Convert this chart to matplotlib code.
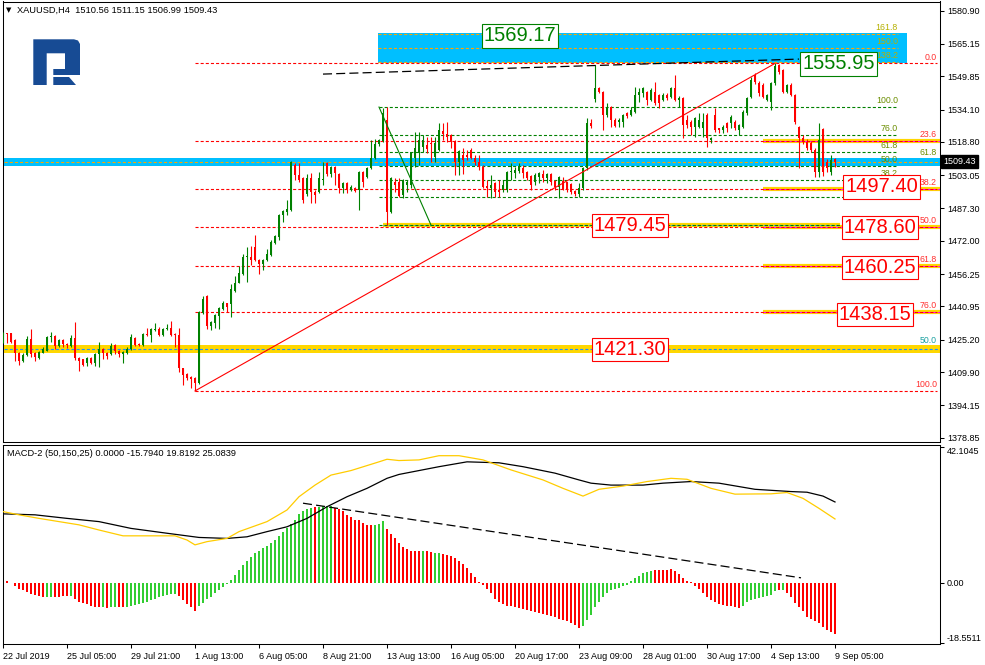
import matplotlib
matplotlib.use("Agg")
import matplotlib.pyplot as plt
import matplotlib.transforms as mtransforms
from matplotlib.patches import Polygon, Rectangle
import numpy as np

plt.rcParams['lines.scale_dashes'] = False
plt.rcParams['font.family'] = ['Liberation Sans', 'DejaVu Sans']
plt.rcParams['axes.linewidth'] = 0.75

# ------------------------------------------------------------------ data
header_text = "XAUUSD,H4  1510.56 1511.15 1506.99 1509.43"
macd_text = "MACD-2 (50,150,25) 0.0000 -15.7940 19.8192 25.0839"

opens = [
 1423.8,1428.2,1428.2,1425.1,1419.1,1415.3,1418.0,1425.4,1419.1,1416.4,
 1419.1,1420.0,1426.3,1427.0,1422.2,1425.1,1423.2,1422.2,1425.8,1416.4,
 1415.9,1414.0,1416.4,1414.3,1418.4,1420.6,1419.1,1418.4,1422.6,1419.8,
 1418.4,1419.1,1420.8,1425.8,1423.2,1422.7,1427.9,1427.4,1429.8,1430.1,
 1427.4,1430.1,1430.6,1427.9,1427.4,1411.7,1409.0,1407.4,1407.2,1404.6,
 1438.0,1446.0,1431.7,1433.3,1436.6,1439.6,1442.4,1442.1,1448.4,1452.2,
 1456.3,1464.2,1464.2,1468.9,1462.9,1461.0,1462.9,1465.3,1471.0,1473.7,
 1484.2,1485.8,1486.6,1507.9,1503.1,1501.6,1494.0,1501.6,1495.3,1495.3,
 1500.6,1508.7,1503.6,1507.1,1503.6,1497.1,1499.2,1496.0,1497.1,1496.0,
 1504.7,1502.3,1506.3,1511.0,1517.7,1519.2,1529.2,1485.8,1499.7,1499.7,
 1493.7,1498.4,1498.4,1511.0,1513.4,1516.5,1517.3,1518.1,1511.8,1515.0,
 1524.0,1522.4,1522.1,1519.2,1509.4,1512.6,1512.6,1515.0,1511.0,1509.4,
 1507.1,1498.1,1496.8,1499.2,1496.0,1496.0,1496.0,1504.7,1503.9,1505.0,
 1506.3,1504.4,1502.8,1499.7,1502.4,1503.5,1501.6,1503.5,1500.3,1497.6,
 1500.3,1499.7,1498.7,1495.6,1494.0,1496.8,1506.3,1527.6,1538.9,1544.5,
 1542.6,1531.5,1535.5,1529.2,1528.4,1528.4,1532.3,1531.5,1533.1,1541.0,
 1541.8,1542.6,1538.6,1542.6,1541.0,1538.6,1541.0,1540.2,1544.5,1538.6,
 1539.4,1529.2,1528.4,1526.0,1526.0,1525.2,1531.5,1519.7,1531.5,1525.2,
 1524.4,1527.6,1527.6,1528.4,1524.4,1526.0,1532.3,1540.2,1550.5,1546.5,
 1545.7,1538.6,1537.8,1546.5,1555.0,1552.8,1542.6,1545.7,1541.0,1526.0,
 1520.5,1518.9,1518.1,1515.0,1504.7,1524.8,1509.4,1504.7,1510.56]
highs = [
 1429.0,1428.5,1428.6,1425.5,1419.5,1419.0,1427.0,1430.1,1419.5,1420.0,
 1421.9,1426.8,1429.0,1427.5,1425.6,1425.5,1423.6,1427.4,1433.6,1416.9,
 1416.2,1416.9,1416.9,1418.9,1424.3,1421.2,1419.6,1423.8,1423.0,1420.2,
 1420.0,1421.6,1427.9,1426.3,1423.6,1428.5,1430.6,1430.6,1433.0,1431.1,
 1430.6,1432.6,1433.9,1428.2,1430.6,1412.0,1409.4,1407.8,1407.6,1438.9,
 1445.9,1446.3,1434.0,1437.3,1440.6,1443.5,1442.8,1451.6,1455.4,1460.1,
 1465.8,1469.2,1469.6,1474.8,1463.3,1463.4,1468.0,1472.4,1474.8,1484.6,
 1486.6,1491.3,1509.8,1508.7,1508.7,1502.0,1503.5,1503.9,1496.0,1504.7,
 1509.4,1509.4,1507.6,1507.5,1504.0,1499.7,1500.0,1498.4,1497.6,1505.2,
 1505.0,1507.1,1519.7,1520.2,1520.2,1534.7,1535.3,1502.0,1501.6,1501.6,
 1501.3,1500.8,1514.2,1523.6,1523.6,1522.1,1521.3,1521.3,1521.3,1527.6,
 1527.6,1528.4,1522.4,1519.7,1515.0,1515.8,1515.0,1515.8,1512.6,1512.6,
 1507.9,1500.8,1503.1,1499.7,1500.8,1500.8,1505.2,1508.7,1507.1,1508.7,
 1507.9,1504.9,1503.3,1503.9,1504.7,1505.5,1504.0,1504.0,1500.8,1502.8,
 1502.4,1500.0,1499.2,1496.0,1499.2,1507.0,1530.0,1529.5,1555.2,1545.0,
 1543.0,1537.0,1536.0,1530.3,1530.0,1532.0,1533.0,1535.5,1545.0,1544.2,
 1545.0,1543.0,1544.2,1547.3,1541.5,1542.0,1541.8,1545.0,1550.5,1540.5,
 1540.0,1531.5,1529.0,1530.5,1532.3,1532.3,1532.3,1521.3,1534.7,1525.5,
 1526.8,1528.4,1531.5,1529.0,1527.3,1534.0,1540.2,1549.7,1551.5,1547.5,
 1546.5,1541.5,1547.3,1555.95,1555.5,1553.2,1546.2,1546.5,1541.5,1526.5,
 1522.0,1520.0,1519.0,1516.0,1527.6,1525.5,1510.8,1512.6,1511.15]
lows = [
 1423.5,1423.8,1423.5,1415.1,1413.2,1414.8,1417.6,1417.2,1415.3,1416.0,
 1418.8,1419.7,1424.3,1420.6,1421.8,1421.9,1421.1,1421.9,1415.6,1410.6,
 1412.8,1412.8,1413.8,1412.8,1412.4,1415.9,1415.9,1418.0,1418.4,1416.9,
 1414.3,1418.4,1420.3,1422.2,1422.0,1422.2,1427.0,1424.3,1429.5,1427.0,
 1427.0,1429.8,1427.0,1421.9,1410.1,1403.8,1406.1,1402.2,1400.95,1404.3,
 1437.5,1430.1,1429.8,1430.6,1430.1,1439.2,1438.5,1436.1,1448.0,1451.8,
 1455.9,1452.7,1460.6,1462.5,1456.3,1458.2,1462.5,1465.0,1470.6,1472.4,
 1481.1,1484.2,1486.0,1500.8,1499.7,1490.0,1493.0,1489.7,1489.7,1494.8,
 1498.4,1502.8,1502.3,1498.4,1494.5,1494.5,1494.5,1495.5,1495.0,1486.6,
 1497.6,1501.8,1505.8,1510.5,1517.0,1518.8,1479.45,1485.0,1495.3,1492.8,
 1492.1,1495.3,1497.1,1507.1,1507.9,1514.2,1513.4,1509.4,1509.4,1514.5,
 1519.7,1518.9,1515.8,1503.1,1503.1,1503.5,1510.2,1510.5,1507.9,1505.5,
 1496.8,1492.9,1492.1,1492.9,1492.9,1495.3,1495.3,1500.8,1501.6,1503.9,
 1501.6,1500.8,1496.0,1498.4,1499.2,1499.7,1499.2,1498.4,1496.0,1492.1,
 1496.0,1495.3,1494.0,1493.4,1492.9,1496.0,1505.5,1525.5,1537.5,1541.8,
 1524.4,1530.7,1526.0,1526.0,1526.0,1526.0,1530.0,1531.0,1532.6,1537.8,
 1540.0,1536.3,1538.0,1536.3,1534.7,1538.0,1538.6,1539.7,1538.0,1535.5,
 1520.5,1525.2,1522.1,1521.3,1525.2,1521.3,1516.5,1518.1,1523.6,1522.8,
 1522.8,1523.6,1525.2,1524.4,1522.1,1525.5,1531.5,1539.5,1546.0,1540.5,
 1539.5,1538.0,1533.9,1545.8,1551.0,1542.0,1541.8,1540.5,1527.5,1506.3,
 1518.0,1515.0,1514.2,1502.3,1502.3,1502.5,1504.7,1503.1,1506.99]
closes = [
 1428.5,1427.7,1424.3,1418.8,1415.3,1418.0,1425.4,1418.4,1416.9,1419.5,
 1420.6,1426.3,1427.0,1422.2,1425.1,1423.0,1422.6,1425.8,1416.4,1415.3,
 1413.2,1416.4,1414.3,1418.4,1420.6,1418.8,1417.6,1422.2,1419.7,1418.4,
 1419.5,1420.8,1426.3,1422.7,1422.6,1427.9,1427.3,1430.1,1430.1,1427.4,
 1430.1,1430.6,1427.4,1427.3,1411.7,1408.5,1406.9,1406.4,1404.6,1438.2,
 1444.3,1431.7,1433.5,1436.9,1440.1,1442.4,1440.5,1449.0,1452.2,1456.6,
 1464.2,1464.5,1462.9,1462.9,1461.0,1462.9,1465.8,1471.3,1474.3,1484.2,
 1486.1,1486.9,1509.4,1503.1,1500.8,1491.3,1501.6,1495.3,1493.7,1501.6,
 1501.4,1503.6,1507.1,1503.9,1497.1,1499.2,1496.5,1497.6,1495.6,1504.7,
 1500.0,1506.3,1511.0,1517.7,1519.7,1532.3,1485.8,1501.6,1498.4,1493.4,
 1500.8,1499.7,1513.9,1515.8,1519.7,1519.7,1515.4,1517.7,1518.1,1524.4,
 1522.4,1521.3,1518.9,1509.4,1514.5,1510.2,1511.8,1511.0,1509.4,1507.1,
 1497.6,1496.8,1498.4,1495.3,1495.3,1498.4,1504.7,1505.0,1505.5,1507.4,
 1503.9,1501.9,1498.4,1503.1,1503.9,1501.9,1503.5,1499.7,1497.6,1502.4,
 1496.5,1496.0,1494.9,1494.0,1496.8,1506.3,1527.6,1526.5,1544.5,1542.6,
 1531.5,1535.5,1529.2,1526.5,1529.3,1531.5,1531.2,1533.9,1541.0,1542.6,
 1544.2,1538.6,1543.4,1537.0,1537.0,1541.0,1539.7,1544.2,1538.6,1539.7,
 1526.8,1526.8,1526.0,1530.0,1529.2,1528.4,1520.5,1520.5,1524.4,1524.4,
 1526.0,1525.2,1530.7,1525.2,1526.8,1533.1,1539.4,1548.1,1547.3,1541.8,
 1540.2,1541.0,1546.5,1554.8,1552.0,1542.6,1545.7,1541.0,1528.4,1520.5,
 1518.9,1515.8,1515.0,1504.7,1519.7,1504.7,1506.3,1510.2,1509.43]

hist_vals = [
 1.2,0.5,0.1,-1.0,-1.8,-2.3,-2.7,-3.3,-3.8,-4.1,
 -4.2,-4.3,-4.3,-4.2,-4.2,-4.1,-4.1,-4.1,-5.0,-5.8,
 -6.3,-6.6,-7.2,-7.4,-7.4,-7.4,-7.8,-7.5,-7.5,-7.5,
 -7.5,-7.5,-7.0,-6.9,-6.6,-6.2,-5.8,-5.4,-5.0,-4.3,
 -4.0,-3.7,-3.4,-3.4,-4.1,-5.3,-6.6,-7.4,-8.8,-7.2,
 -6.2,-5.0,-4.3,-3.2,-2.3,-1.1,-0.4,1.0,2.6,3.9,
 5.7,6.8,8.0,9.2,9.8,10.8,11.6,12.4,13.4,14.7,
 15.9,17.0,18.2,19.6,21.3,22.4,22.8,23.2,23.4,23.5,
 23.7,23.9,23.7,23.3,22.9,22.4,21.2,20.4,19.4,19.4,
 18.6,18.1,17.8,18.1,18.3,19.3,16.7,15.2,13.9,12.4,
 11.2,10.4,10.0,10.0,10.0,10.0,9.8,9.6,9.2,9.2,
 9.0,8.8,8.4,7.6,6.9,5.8,4.6,3.2,1.9,0.4,
 -0.7,-1.8,-3.2,-4.8,-6.0,-6.6,-7.0,-7.2,-7.5,-7.8,
 -8.1,-8.4,-8.7,-9.0,-9.3,-9.6,-9.9,-10.2,-10.6,-11.0,
 -11.4,-11.8,-12.3,-13.0,-13.8,-13.4,-11.5,-9.8,-7.5,-5.8,
 -4.2,-3.0,-2.2,-1.8,-1.4,-1.0,-0.5,0.5,1.4,2.3,
 3.0,3.5,3.8,3.9,3.9,4.0,4.0,4.2,3.8,2.8,
 1.6,0.7,0.2,-0.8,-2.0,-3.2,-4.3,-5.3,-6.0,-6.5,
 -6.8,-7.0,-7.2,-7.4,-7.6,-7.0,-6.0,-5.2,-4.8,-4.5,
 -4.3,-4.1,-3.6,-2.4,-2.3,-2.3,-3.0,-4.2,-6.2,-7.4,
 -8.8,-10.4,-11.2,-11.8,-12.5,-13.6,-14.6,-15.2,-15.79]
hist_cols = ("rrgrrrrrrr" "rggrrrrgrr" "rrrrrgrggr" "rggggggggg" "ggggrrrrrg"
             "gggggggggg" "gggggggggg" "ggggggggrg" "gggrrrrrrr" "rrrgggrrrr"
             "rrrrrgrrgg" "rrrrrrrrrr" "rrrrrrrrrr" "rrrrrrrrrr" "rrrrrggggg"
             "gggggggggg" "gggrrrrrrr" "rrrrrrrrrr" "rrrrrggggg" "ggggrgrrrr"
             "rrrrrrrrr")

yellow_idx = [0,4,9,19,24,30,43,46,48,51,56,59,66,71,74,78,82,87,94,96,99,104,109,
              114,120,127,135,140,145,149,155,161,167,171,177,183,192,196,200,204,208]
yellow_vals = [22.1,21.1,20.0,18.0,16.4,14.6,14.6,13.3,11.8,12.8,13.8,15.9,19.0,22.6,
               26.7,30.3,33.4,34.8,37.5,38.3,37.9,38.1,39.4,39.4,38.1,35.0,31.9,29.3,
               26.9,29.0,30.0,31.4,32.4,32.1,29.3,27.5,27.6,28.0,26.2,23.1,19.82]
black_idx = [0,8,16,24,32,41,49,56,61,66,71,76,81,86,91,96,99,109,116,124,130,138,
             144,147,152,160,165,172,179,188,197,201,205,208]
black_vals = [21.4,21.1,20.0,19.0,16.9,15.4,14.1,13.8,14.3,15.9,17.4,20.0,23.6,26.7,
              29.3,32.4,33.6,36.0,37.5,37.2,36.0,34.0,31.9,30.9,30.3,30.3,30.9,31.4,
              30.9,29.0,28.3,28.1,26.9,25.08]

xtick_idx = [0,16,32,48,64,80,96,112,128,144,160,176,192,208]
xtick_labels = ["22 Jul 2019","25 Jul 05:00","29 Jul 21:00","1 Aug 13:00","6 Aug 05:00",
                "8 Aug 21:00","13 Aug 13:00","16 Aug 05:00","20 Aug 17:00","23 Aug 09:00",
                "28 Aug 01:00","30 Aug 17:00","4 Sep 13:00","9 Sep 05:00"]
price_ticks = [1580.90,1565.15,1549.85,1534.10,1518.80,1503.05,1487.30,1472.00,
               1456.25,1440.95,1425.20,1409.90,1394.15,1378.85]
macd_ticks = [42.1045, 0.0, -18.5511]
last_price = 1509.43

red_fib_low, red_fib_high = 1400.95, 1555.95
red_fib_idx = [48, 193]
red_fib_ratios = [0.0, 23.6, 38.2, 50.0, 61.8, 76.0, 100.0]
green_fib_low, green_fib_high = 1479.45, 1535.30
green_fib_idx = [94, 107]
green_fib_ratios = [0.0, 23.6, 38.2, 50.0, 61.8, 76.0, 100.0]
green_fib_labelled = [38.2, 50.0, 61.8, 76.0, 100.0]
green_ext_ratios = [138.2, 150.0, 161.8]
target_ratios = [23.6, 38.2, 50.0, 61.8, 76.0]
top_trend_idx = [80, 199]
top_trend_vals = [1550.9, 1558.0]
macd_trend_idx = [75, 199.5]
macd_trend_vals = [24.7, 1.6]
blue_zone = [1507.3, 1509.4, 1511.3]
yellow_zone = [1418.9, 1420.6, 1422.5]
low_zone_price = 1479.45

value_boxes = ["1569.17", "1555.95", "1497.40", "1479.45", "1478.60",
               "1460.25", "1438.15", "1421.30"]
value_box_colors = ["#008000", "#008000", "#ff0000", "#ff0000", "#ff0000",
                    "#ff0000", "#ff0000", "#ff0000"]

# ------------------------------------------------------------------ layout
W, H = 985, 665
fig = plt.figure(figsize=(W / 100, H / 100), dpi=100)
fig.patch.set_facecolor('white')


def fr(x0, y0, x1, y1):
    return [x0 / W, 1 - y1 / H, (x1 - x0) / W, (y1 - y0) / H]


ax = fig.add_axes(fr(2.5, 1.5, 940, 441.5))
mx = fig.add_axes(fr(2.5, 444.5, 940, 644))


def bx(xpx):
    return (xpx - 3) / 4.0


def py(ypx):
    return 1580.90 - (ypx - 10.7) / 2.113


def my(ypx):
    return (583 - ypx) / 3.231


ax.set_xlim(bx(2.5), bx(940))
ax.set_ylim(py(441.5), py(1.5))
mx.set_xlim(bx(2.5), bx(940))
mx.set_ylim(my(644), my(444.5))

GREEN = '#008000'
RED = '#ff0000'
GOLD = '#ffd700'
SKY = '#00bfff'
DASH = (0, (2.2, 1.5))
LDASH = (0, (6.5, 3.0))
XMAX = bx(940)

# ---------------- zones (background)
ax.axhspan(blue_zone[0], blue_zone[2], color=SKY, lw=0, zorder=1)
ax.hlines(blue_zone[1], -1, XMAX, colors='#ffa500', linestyles=DASH, lw=0.8, zorder=2)
ax.axhspan(yellow_zone[0], yellow_zone[2], color=GOLD, lw=0, zorder=1)
ax.hlines(yellow_zone[1], -1, XMAX, colors='#1e90ff', linestyles=DASH, lw=0.8, zorder=2)

gl = lambda r: green_fib_low + r / 100.0 * (green_fib_high - green_fib_low)
rl = lambda r: red_fib_high - r / 100.0 * (red_fib_high - red_fib_low)

# top target box (green fib extensions)
ax.add_patch(Rectangle((bx(378), gl(green_ext_ratios[0]) - 0.3), bx(907) - bx(378),
                       gl(green_ext_ratios[-1]) - gl(green_ext_ratios[0]) + 0.7,
                       facecolor=SKY, edgecolor='none', zorder=1))
for r in green_ext_ratios:
    ax.hlines(gl(r), bx(378), bx(898), colors='#ffa500', linestyles=DASH, lw=0.8, zorder=2)
    ax.text(bx(898), gl(r) + 0.9, f"{r:.1f}", color='#b5b000', fontsize=6.3,
            ha='right', va='bottom', zorder=6)

# 1479.45 band
ax.hlines(low_zone_price, bx(383), bx(840), colors=GOLD, lw=3.0, zorder=1)
ax.hlines(low_zone_price, bx(383), bx(840), colors='#1e90ff', linestyles=DASH, lw=0.8, zorder=2)

# target bands on the right
for r in target_ratios:
    ax.hlines(rl(r), bx(763), XMAX, colors=GOLD, lw=3.0, zorder=1)
    ax.hlines(rl(r), bx(763), XMAX, colors='#ff00ff', linestyles=DASH, lw=0.8, zorder=2)

for r in green_fib_ratios:
    ax.hlines(gl(r), green_fib_idx[0], bx(898), colors=GREEN, linestyles=DASH, lw=0.8, zorder=2)
for r in green_fib_labelled:
    ax.text(bx(898), gl(r) + 0.9, f"{r:.1f}", color='#6b8e00', fontsize=6.3,
            ha='right', va='bottom', zorder=6)

for r in red_fib_ratios:
    ax.hlines(rl(r), red_fib_idx[0], bx(937), colors=RED, linestyles=DASH, lw=0.8, zorder=2)
    ax.text(bx(937), rl(r) + 0.9, f"{r:.1f}", color='#ff3030', fontsize=6.3,
            ha='right', va='bottom', zorder=6)

ax.text(bx(937), blue_zone[2] + 0.3, "61.8", color='#6b8e00', fontsize=6.3,
        ha='right', va='bottom', zorder=6)
ax.text(bx(937), yellow_zone[2] + 0.3, "50.0", color='#1aa0a0', fontsize=6.3,
        ha='right', va='bottom', zorder=6)

# ---------------- candles
o = np.array(opens); hi = np.array(highs); lo = np.array(lows); c = np.array(closes)
idx = np.arange(len(o))
up = c >= o
col = np.where(up, GREEN, RED)
ax.vlines(idx, lo, hi, colors=col, lw=0.8, zorder=3)
ax.bar(idx, np.maximum(np.abs(c - o), 0.45), 0.74, bottom=np.minimum(o, c),
       color=col, lw=0, zorder=4)

# ---------------- trend lines
ax.plot(red_fib_idx, [red_fib_low, red_fib_high], color=RED, lw=0.8, zorder=5)
ax.plot(green_fib_idx, [green_fib_high, green_fib_low], color=GREEN, lw=0.8, zorder=5)
ax.plot(top_trend_idx, top_trend_vals, color='black', lw=0.9, linestyle=LDASH, zorder=5)

# ---------------- value boxes
box_px = [(520, 36), (838.5, 64), (881.5, 187), (630, 225.5), (880, 227.5),
          (880, 267.5), (875, 314.5), (630, 349.5)]
for txt, colr, (xp, yp) in zip(value_boxes, value_box_colors, box_px):
    ax.text(bx(xp), py(yp), txt, color=colr, fontsize=14.5,
            family=['Liberation Sans Narrow', 'Liberation Sans'],
            ha='center', va='center', zorder=9,
            bbox=dict(boxstyle='square,pad=0.1', facecolor='white', edgecolor=colr, lw=0.8))

# ---------------- price axis
ax.set_xticks([])
ax.yaxis.tick_right()
ax.set_yticks(price_ticks)
ax.set_yticklabels([f"{v:.2f}" for v in price_ticks])
ax.tick_params(axis='y', right=True, left=False, length=3, width=0.75, pad=2,
               labelsize=6.5, direction='out')
ax.text(1 + 3.5 / 937.5, last_price, f"{last_price:.2f}", transform=ax.get_yaxis_transform(),
        color='white', fontsize=6.5, ha='left', va='center', zorder=10, clip_on=False,
        bbox=dict(boxstyle='square,pad=0.25', facecolor='black', edgecolor='black'))

# ---------------- MACD
mx.bar(idx, hist_vals, 0.74, color=['#32cd32' if k == 'g' else RED for k in hist_cols],
       lw=0, zorder=2)
mx.plot(black_idx, black_vals, color='black', lw=0.9, zorder=3)
mx.plot(yellow_idx, yellow_vals, color='#ffcc00', lw=0.9, zorder=3)
mx.plot(macd_trend_idx, macd_trend_vals, color='black', lw=0.9, linestyle=LDASH, zorder=4)
mx.yaxis.tick_right()
mx.set_yticks(macd_ticks)
mx.set_yticklabels(["42.1045", "0.00", "-18.5511"])
labs = mx.get_yticklabels()
labs[0].set_va('top')
labs[2].set_va('bottom')
mx.tick_params(axis='y', right=True, left=False, length=3, width=0.75, pad=2,
               labelsize=6.5, direction='out')
mx.set_xticks(xtick_idx)
mx.set_xticklabels(xtick_labels)
for t in mx.get_xticklabels():
    t.set_ha('left')
mx.tick_params(axis='x', length=3, width=0.75, pad=2.5, labelsize=6.5, direction='out')

# ---------------- header texts
fig.text(6 / W, 1 - 10 / H, "\u25bc", fontsize=5, family=['DejaVu Sans'], va='center')
fig.text(17 / W, 1 - 10 / H, header_text, fontsize=6.7, va='center')
fig.text(7 / W, 1 - 453 / H, macd_text, fontsize=6.7, va='center')

# ---------------- logo (pixel coordinates, origin top-left)
pix = mtransforms.Affine2D().scale(1 / 100.0, -1 / 100.0).translate(0, H / 100.0) + fig.dpi_scale_trans
logo1 = [(33.3, 39.3), (74, 39.3), (78, 40.5), (80, 44), (80, 75), (53.3, 75), (53.3, 69),
         (65, 69), (65, 53.3), (46.7, 53.3), (46.7, 85), (33.3, 85)]
logo2 = [(53.3, 77), (69, 77), (76, 85), (53.3, 85)]
for pts in (logo1, logo2):
    fig.add_artist(Polygon(pts, closed=True, transform=pix, facecolor='#174b94',
                           edgecolor='none', zorder=20))

fig.savefig("out.png", dpi=100, facecolor='white')
